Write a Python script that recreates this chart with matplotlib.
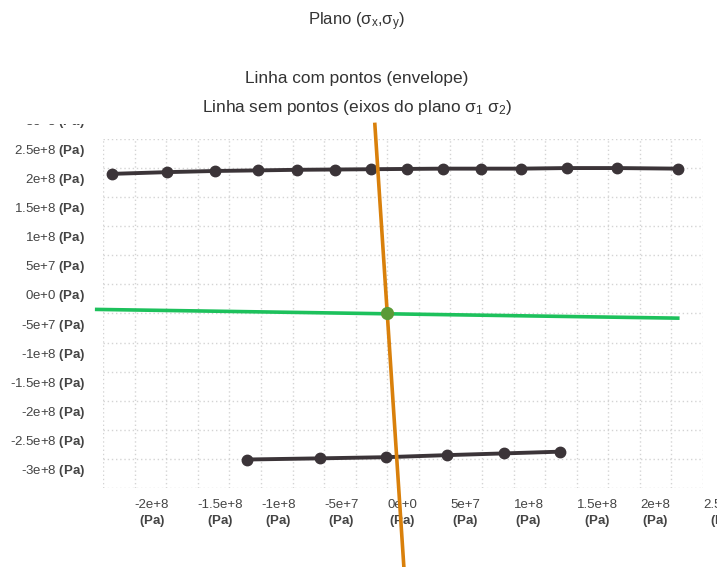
#plano sigma x, sigma y
#envelope + eixos do plano sigma1 sigma2

import matplotlib.pyplot as plt
from matplotlib.ticker import MultipleLocator, FixedLocator
from matplotlib.transforms import offset_copy, Bbox

plt.rcParams['font.family'] = ['Liberation Sans', 'DejaVu Sans']
plt.rcParams['mathtext.fontset'] = 'custom'
plt.rcParams['mathtext.rm'] = 'Liberation Sans'
plt.rcParams['mathtext.it'] = 'Liberation Sans:italic'
plt.rcParams['mathtext.bf'] = 'Liberation Sans:bold'

# envelope (linha com pontos)
top_x = [-2.18e8, -1.74e8, -1.36e8, -1.02e8, -7.15e7, -4.15e7, -1.3e7,
         1.55e7, 4.4e7, 7.4e7, 1.06e8, 1.42e8, 1.82e8, 2.30e8]
top_y = [2.40e8, 2.43e8, 2.45e8, 2.46e8, 2.47e8, 2.475e8, 2.48e8,
         2.485e8, 2.49e8, 2.49e8, 2.49e8, 2.50e8, 2.50e8, 2.49e8]

bot_x = [-1.11e8, -5.3e7, -1e6, 4.7e7, 9.25e7, 1.37e8]
bot_y = [-2.51e8, -2.49e8, -2.47e8, -2.435e8, -2.405e8, -2.375e8]

# eixos do plano sigma1 sigma2 (linhas sem pontos)
eixo1_x = [-2.3e8, 2.3e8]
eixo1_y = [7e6, -8e6]
eixo2_x = [-9.8e6, 1.42e7]
eixo2_y = [3.25e8, -4.7e8]

xtick_vals = [-2e8, -1.5e8, -1e8, -5e7, 0, 5e7, 1e8, 1.5e8, 2e8, 2.5e8]
xtick_names = ["-2e+8", "-1.5e+8", "-1e+8", "-5e+7", "0e+0", "5e+7", "1e+8", "1.5e+8", "2e+8", "2.5e+8"]
ytick_vals = [3e8, 2.5e8, 2e8, 1.5e8, 1e8, 5e7, 0, -5e7, -1e8, -1.5e8, -2e8, -2.5e8, -3e8]
ytick_names = ["3e+8", "2.5e+8", "2e+8", "1.5e+8", "1e+8", "5e+7", "0e+0", "-5e+7", "-1e+8", "-1.5e+8", "-2e+8", "-2.5e+8", "-3e+8"]

fig = plt.figure(figsize=(7.17, 5.67), dpi=100)
ax = fig.add_axes([0.1437, 0.1393, 0.8368, 0.6156])

dark = "#3b3438"
ax.plot(top_x, top_y, color=dark, linewidth=2.8, marker="o", markersize=7.5, zorder=3)
ax.plot(bot_x, bot_y, color=dark, linewidth=2.8, marker="o", markersize=7.5, zorder=3)
ax.plot(eixo1_x, eixo1_y, color="#1dc15c", linewidth=2.6, zorder=3, clip_on=False)
ax.plot(eixo2_x, eixo2_y, color="#d9800b", linewidth=2.6, zorder=5, clip_on=False)
ax.plot([0], [0], marker="o", markersize=8.5, color="#5a9a36", zorder=6)

ax.set_xlim(-2.25e8, 2.5e8)
ax.set_ylim(-3e8, 3e8)

ax.xaxis.set_major_locator(FixedLocator(xtick_vals))
ax.xaxis.set_minor_locator(MultipleLocator(2.5e7))
ax.yaxis.set_major_locator(MultipleLocator(5e7))
ax.set_xticklabels([n + "\n" + r"$\mathbf{(Pa)}$" for n in xtick_names],
                   ha="left", multialignment="center", fontsize=9.5, color="#444444")
ax.set_yticklabels([])
ax.tick_params(axis="both", which="both", length=0)
ax.tick_params(axis="x", pad=8)

ax.grid(True, which="both", linestyle=(0, (1, 2)), color="#d4d4d4", linewidth=1)
for s in ax.spines.values():
    s.set_visible(False)

# y labels sit a bit above their grid lines
ytrans = offset_copy(ax.get_yaxis_transform(), fig=fig, x=-18, y=17, units="dots")
for v, n in zip(ytick_vals, ytick_names):
    t = ax.text(0, v, n + " " + r"$\mathbf{(Pa)}$", transform=ytrans, ha="right", va="center",
                fontsize=9.5, color="#444444", clip_on=False)
    if v == 3e8:
        t.set_clip_box(Bbox([[0, 0], [717, 567 - 124]]))
        t.set_clip_on(True)

fig.text(0.498, 0.962, r"Plano (σ$_\mathrm{x}$,σ$_\mathrm{y}$)", ha="center", va="center",
         fontsize=12, color="#333333")
fig.text(0.498, 0.862, "Linha com pontos (envelope)", ha="center", va="center",
         fontsize=12.4, color="#333333")
fig.text(0.498, 0.811, r"Linha sem pontos (eixos do plano σ$_\mathrm{1}$ σ$_\mathrm{2}$)", ha="center",
         va="center", fontsize=12.4, color="#333333")

plt.savefig("out.png", dpi=100)
